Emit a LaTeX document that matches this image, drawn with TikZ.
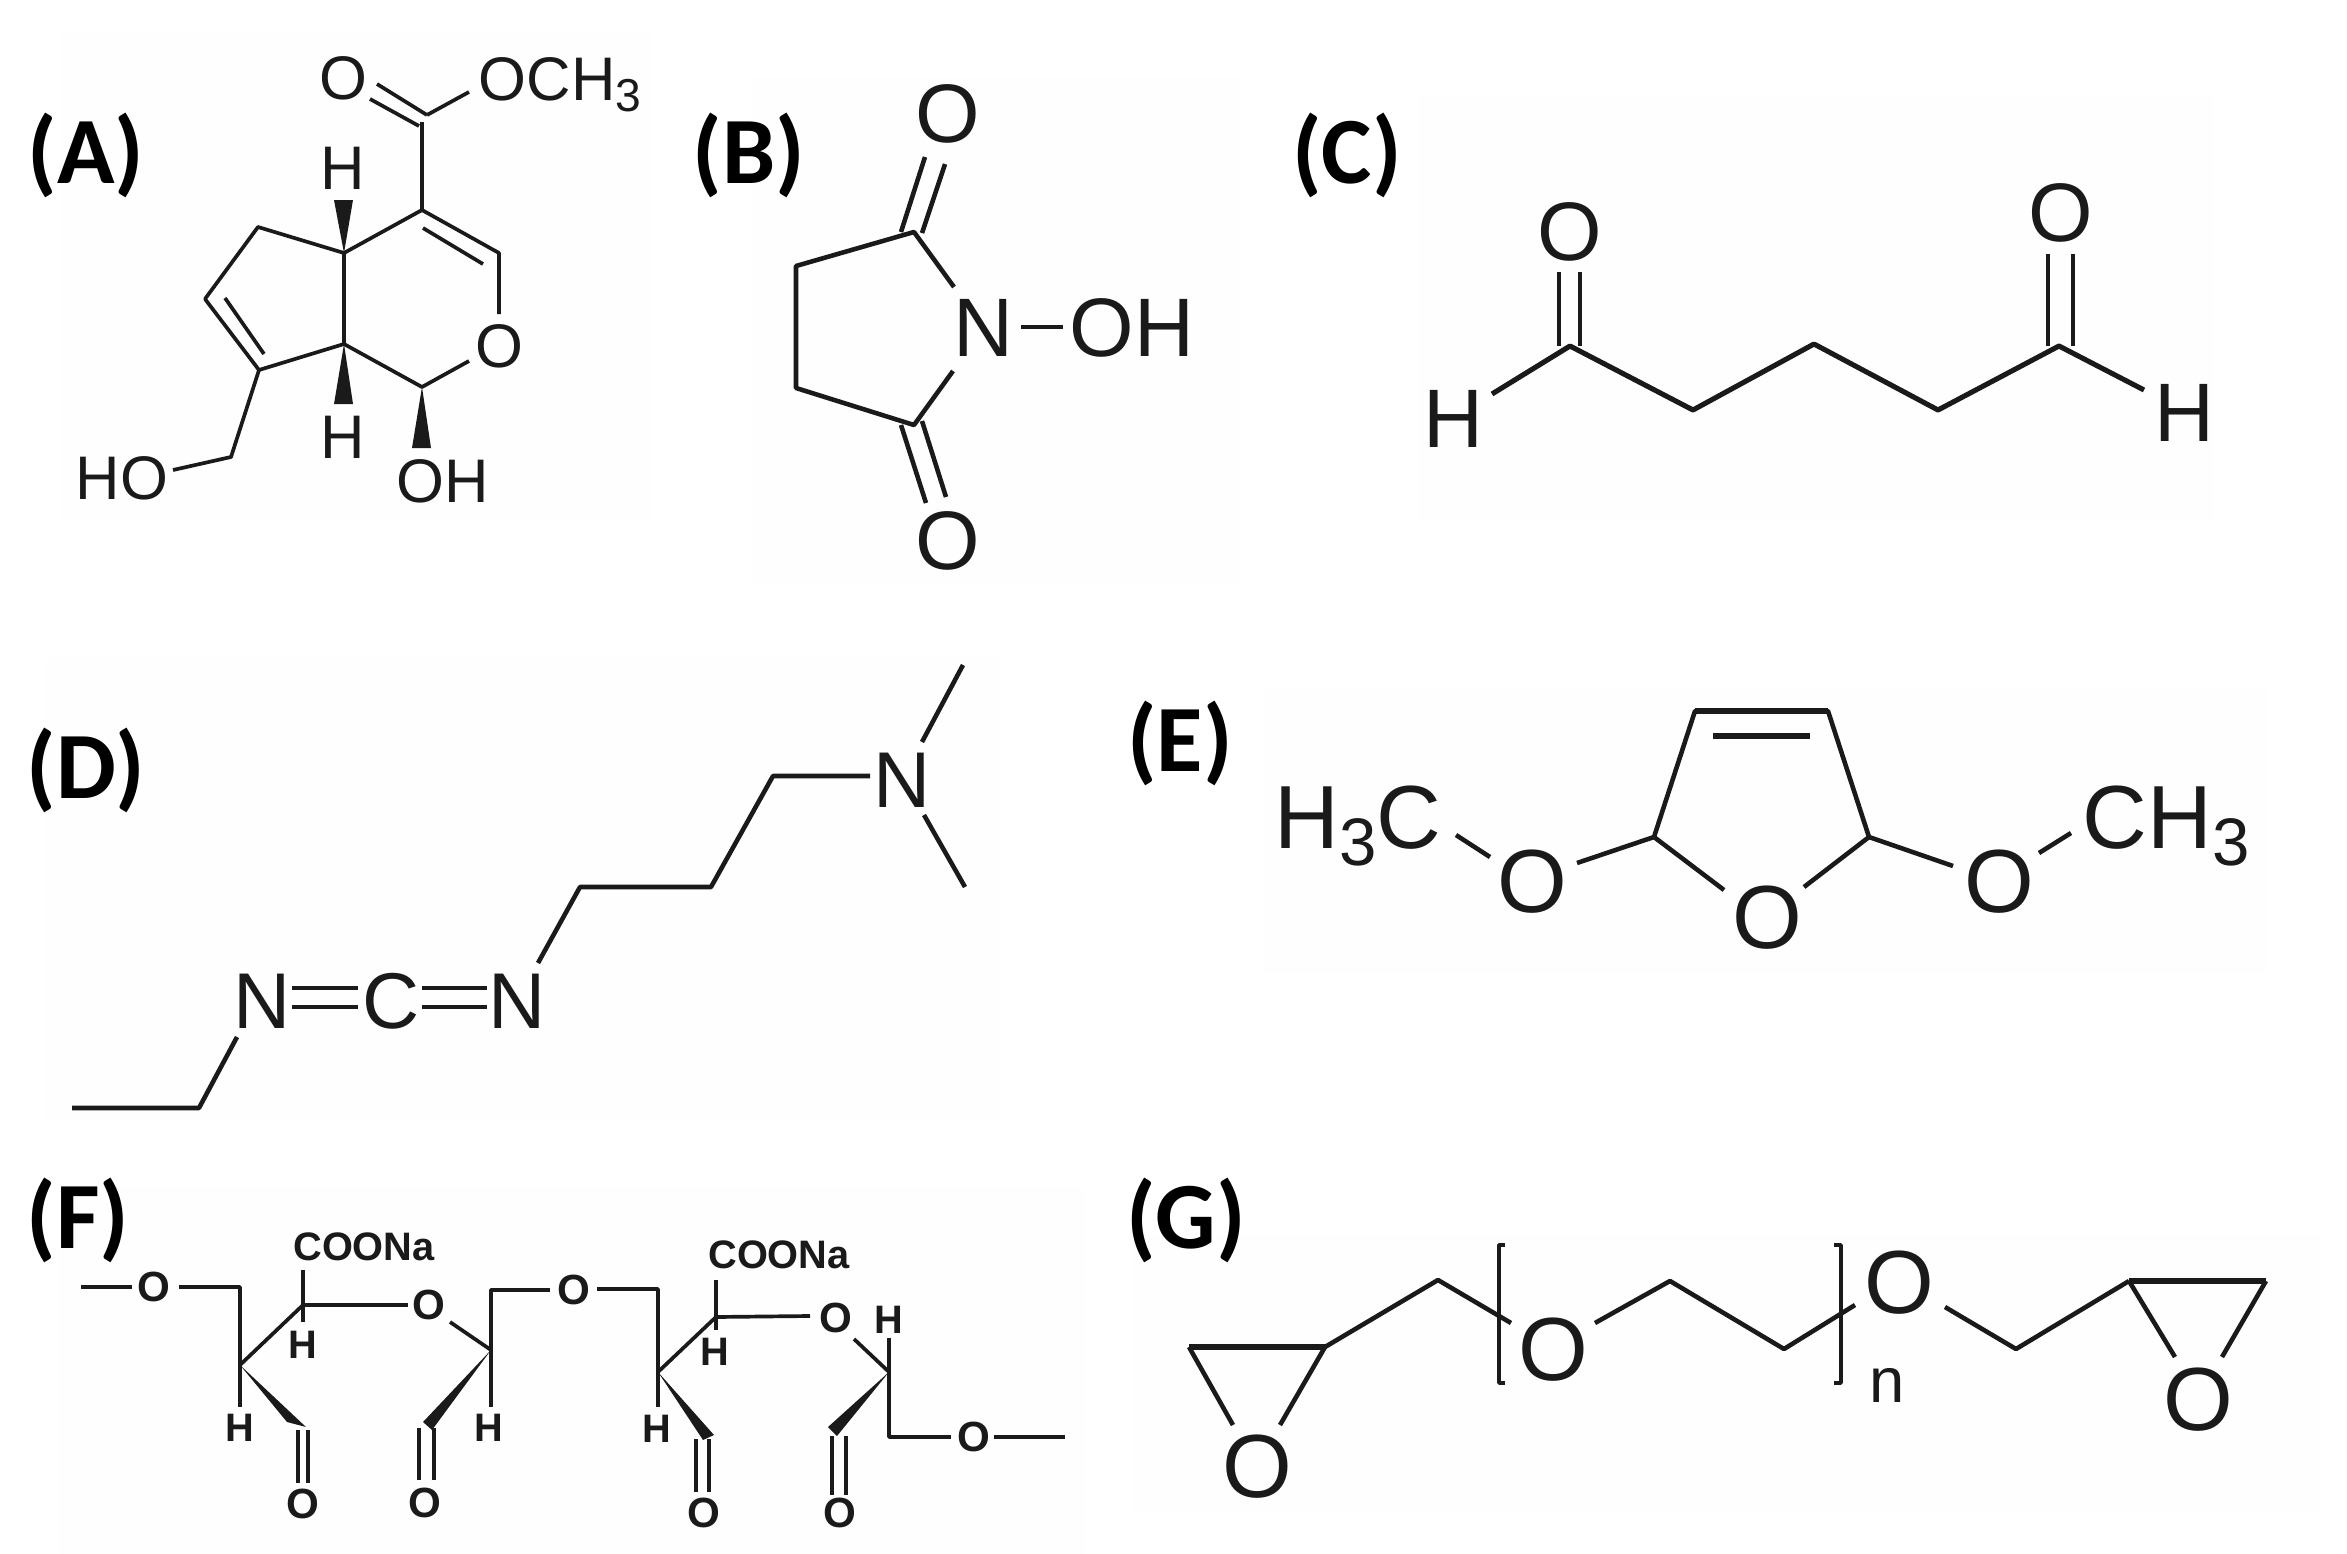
\documentclass[tikz,border=0pt]{standalone}
\usepackage{fontspec}
\setmainfont{Liberation Sans}
\newfontfamily\lblfont{Carlito}
\definecolor{ink}{HTML}{1A1A1A}
\definecolor{panel}{HTML}{FEFEFE}
\newcommand{\subn}[1]{\raisebox{-0.19em}{\scalebox{0.75}{#1}}}
\tikzset{
  panelbg/.style={fill=panel,draw=none},
  bond/.style={draw=ink,line width=1.3pt,line join=round,line cap=butt},
  thinbond/.style={draw=ink,line width=1.05pt,line join=round,line cap=butt},
  heavybond/.style={draw=ink,line width=1.9pt,line join=round,line cap=butt},
  wedge/.style={fill=ink,draw=none},
  atom/.style={inner sep=0pt,text=ink},
  plabel/.style={inner sep=0pt,text=black,font=\lblfont\bfseries\fontsize{27}{30}\selectfont},
  atomA/.style={atom,font=\fontsize{17.5}{20}\selectfont},
  atomB/.style={atom,font=\fontsize{23.6}{26}\selectfont},
  atomD/.style={atom,font=\fontsize{22.5}{26}\selectfont},
  atomE/.style={atom,font=\fontsize{25.5}{28}\selectfont},
  atomF/.style={atom,font=\bfseries\fontsize{11.3}{13}\selectfont},
  atomFo/.style={atom,font=\bfseries\fontsize{12}{14}\selectfont},
}
\begin{document}
\begin{tikzpicture}[x=0.01cm,y=-0.01cm]
\useasboundingbox (0,0) rectangle (2347,1554);
% faint panel backgrounds
\fill[panelbg] (61,33) rectangle (652,520);
\fill[panelbg] (751,76) rectangle (1239,585);
\fill[panelbg] (1419,96) rectangle (2214,520);
\fill[panelbg] (46,657) rectangle (1000,1120);
\fill[panelbg] (1263,689) rectangle (2268,973);
\fill[panelbg] (59,1187) rectangle (1085,1554);
\fill[panelbg] (1134,1235) rectangle (2320,1513);

% panel labels
\node[plabel] (labA) at (86,155) {(A)};
\node[plabel] (labB) at (749,155) {(B)};
\node[plabel] (labC) at (1347,155) {(C)};
\node[plabel] (labD) at (86,770) {(D)};
\node[plabel] (labE) at (1180,743) {(E)};
\node[plabel] (labF) at (78,1220) {(F)};
\node[plabel] (labG) at (1186,1220) {(G)};

% ---------- A ----------
\node[atomA] (aO1) at (343,78) {O};
\node[atomA,anchor=base west] (aOMe) at (478,100) {OCH\subn{3}};
\node[atomA] (aOr) at (499,346) {O};
\node[atomA] (aH1) at (343,168) {H};
\node[atomA] (aH2) at (343,437) {H};
\node[atomA] (aHO) at (122,478) {HO};
\node[atomA] (aOH) at (443,481) {OH};
\coordinate (aC) at (422,122);
\coordinate (aC4) at (422,210);
\coordinate (aC5) at (499,253);
\coordinate (aC5b) at (499,314);
\coordinate (aC1) at (422,387);
\coordinate (aC1b) at (469,361);
\coordinate (aC7) at (344,344);
\coordinate (aC4a) at (344,253);
\coordinate (aCa) at (258,227);
\coordinate (aCb) at (205,299);
\coordinate (aCc) at (259,370);
\coordinate (aCd) at (231,457);
\coordinate (aCe) at (173,470);
\coordinate (aD1) at (370,99);
\coordinate (aD2) at (419,126);
\coordinate (aD3) at (377,84);
\coordinate (aD4) at (427,115);
\coordinate (aM) at (469,92);
\coordinate (aI1) at (423,228);
\coordinate (aI2) at (483,264);
\coordinate (aI3) at (225,298);
\coordinate (aI4) at (264,354);
\coordinate (aW1a) at (334,200);
\coordinate (aW1b) at (353,200);
\coordinate (aW2a) at (334,404);
\coordinate (aW2b) at (353,404);
\coordinate (aW3a) at (412,448);
\coordinate (aW3b) at (431,448);
\draw[thinbond] (aD1)--(aD2);
\draw[thinbond] (aD3)--(aD4);
\draw[thinbond] (aD4)--(aM);
\draw[thinbond] (aC)--(aC4)--(aC5)--(aC5b);
\draw[thinbond] (aC4)--(aC4a)--(aC7)--(aC1)--(aC1b);
\draw[thinbond] (aC4a)--(aCa)--(aCb)--(aCc)--(aC7);
\draw[thinbond] (aCc)--(aCd)--(aCe);
\draw[thinbond] (aI1)--(aI2);
\draw[thinbond] (aI3)--(aI4);
\fill[wedge] (aC4a)--(aW1a)--(aW1b)--cycle;
\fill[wedge] (aC7)--(aW2a)--(aW2b)--cycle;
\fill[wedge] (aC1)--(aW3a)--(aW3b)--cycle;

% ---------- B ----------
\node[atomB] (bO1) at (948,114) {O};
\node[atomB] (bO2) at (948,541) {O};
\node[atomB] (bN) at (983,328) {N};
\node[atomB] (bOH) at (1132,328) {OH};
\coordinate (bC1) at (914,232);
\coordinate (bC2) at (796,266);
\coordinate (bC3) at (796,388);
\coordinate (bC4) at (914,425);
\coordinate (bN1) at (954,287);
\coordinate (bN2) at (953,371);
\coordinate (bX1) at (1021,327);
\coordinate (bX2) at (1063,327);
\coordinate (bD1) at (901,232);
\coordinate (bD2) at (925,157);
\coordinate (bD3) at (922,233);
\coordinate (bD4) at (945,164);
\coordinate (bE1) at (901,425);
\coordinate (bE2) at (926,503);
\coordinate (bE3) at (922,421);
\coordinate (bE4) at (946,497);
\draw[bond] (bN1)--(bC1)--(bC2)--(bC3)--(bC4)--(bN2);
\draw[bond] (bX1)--(bX2);
\draw[bond] (bD1)--(bD2);
\draw[bond] (bD3)--(bD4);
\draw[bond] (bE1)--(bE2);
\draw[bond] (bE3)--(bE4);

% ---------- C ----------
\node[atomB] (cO1) at (1570,232) {O};
\node[atomB] (cO2) at (2061,213) {O};
\node[atomB] (cH1) at (1453,419) {H};
\node[atomB] (cH2) at (2184,413) {H};
\coordinate (cC1) at (1570,346);
\coordinate (cC2) at (1693,410);
\coordinate (cC3) at (1814,344);
\coordinate (cC4) at (1938,410);
\coordinate (cC5) at (2059,346);
\coordinate (cB1) at (1492,394);
\coordinate (cB2) at (2144,390);
\coordinate (cD1) at (1559,346);
\coordinate (cD2) at (1559,272);
\coordinate (cD3) at (1580,346);
\coordinate (cD4) at (1580,272);
\coordinate (cE1) at (2048,346);
\coordinate (cE2) at (2048,254);
\coordinate (cE3) at (2073,346);
\coordinate (cE4) at (2073,254);
\draw[bond,line width=1.45pt] (cB1)--(cC1)--(cC2)--(cC3)--(cC4)--(cC5)--(cB2);
\draw[bond] (cD1)--(cD2);
\draw[bond] (cD3)--(cD4);
\draw[bond] (cE1)--(cE2);
\draw[bond] (cE3)--(cE4);

% ---------- D ----------
\node[atomD] (dN3) at (902,780) {N};
\node[atomD] (dN2) at (517,1001) {N};
\node[atomD] (dC) at (391,1001) {C};
\node[atomD] (dN1) at (262,1001) {N};
\coordinate (dMe1) at (963,665);
\coordinate (dMe1b) at (922,742);
\coordinate (dMe2) at (965,887);
\coordinate (dMe2b) at (924,815);
\coordinate (dA) at (870,776);
\coordinate (dB) at (773,776);
\coordinate (dCc) at (711,887);
\coordinate (dDd) at (580,887);
\coordinate (dE) at (538,963);
\coordinate (dF) at (237,1037);
\coordinate (dG) at (199,1108);
\coordinate (dH) at (72,1108);
\coordinate (dP1) at (292,988);
\coordinate (dP2) at (358,988);
\coordinate (dP3) at (292,1007);
\coordinate (dP4) at (358,1007);
\coordinate (dQ1) at (422,988);
\coordinate (dQ2) at (487,988);
\coordinate (dQ3) at (422,1007);
\coordinate (dQ4) at (487,1007);
\draw[bond] (dMe1)--(dMe1b);
\draw[bond] (dMe2)--(dMe2b);
\draw[bond] (dA)--(dB)--(dCc)--(dDd)--(dE);
\draw[bond] (dF)--(dG)--(dH);
\draw[bond] (dP1)--(dP2);
\draw[bond] (dP3)--(dP4);
\draw[bond] (dQ1)--(dQ2);
\draw[bond] (dQ3)--(dQ4);

% ---------- E ----------
\node[atomE,anchor=base west] (eL) at (1274,848) {H\subn{3}C};
\node[atomE,anchor=base west] (eR) at (2082,848) {CH\subn{3}};
\node[atomE] (eO1) at (1532,882) {O};
\node[atomE] (eO2) at (1767,918) {O};
\node[atomE] (eO3) at (1999,882) {O};
\coordinate (eA) at (1695,711);
\coordinate (eB) at (1828,711);
\coordinate (eC) at (1654,837);
\coordinate (eDd) at (1869,837);
\coordinate (eI1) at (1713,736);
\coordinate (eI2) at (1810,736);
\coordinate (eR1) at (1724,890);
\coordinate (eR2) at (1804,887);
\coordinate (eS1) at (1577,863);
\coordinate (eS2) at (1953,866);
\coordinate (eT1) at (1456,835);
\coordinate (eT2) at (1490,857);
\coordinate (eT3) at (2039,853);
\coordinate (eT4) at (2071,833);
\draw[bond] (eR1)--(eC)--(eA)--(eB)--(eDd)--(eR2);
\draw[bond,line width=1.6pt] (eI1)--(eI2);
\draw[bond,line width=1.6pt] (eA)--(eB);
\draw[bond] (eS1)--(eC);
\draw[bond] (eS2)--(eDd);
\draw[bond] (eT1)--(eT2);
\draw[bond] (eT3)--(eT4);

% ---------- F ----------
\node[atomFo] (fO1) at (154,1287) {O};
\node[atomF] (fCOO1) at (364,1247) {COONa};
\node[atomF] (fH1) at (240,1428) {H};
\node[atomF] (fH2) at (303,1345) {H};
\node[atomFo] (fO2) at (429,1305) {O};
\node[atomF] (fH3) at (489,1428) {H};
\node[atomFo] (fO3) at (574,1290) {O};
\node[atomFo] (fO4) at (303,1504) {O};
\node[atomFo] (fO5) at (425,1503) {O};
\node[atomF] (fCOO2) at (779,1255) {COONa};
\node[atomF] (fH4) at (657,1429) {H};
\node[atomF] (fH5) at (715,1352) {H};
\node[atomFo] (fO6) at (836,1318) {O};
\node[atomF] (fH6) at (889,1320) {H};
\node[atomFo] (fO7) at (974,1437) {O};
\node[atomFo] (fO8) at (704,1513) {O};
\node[atomFo] (fO9) at (840,1513) {O};
\coordinate (fa1) at (81,1287);
\coordinate (fa2) at (132,1287);
\coordinate (fb1) at (179,1287);
\coordinate (fb2) at (240,1287);
\coordinate (fb3) at (240,1365);
\coordinate (fb4) at (240,1407);
\coordinate (fc1) at (303,1270);
\coordinate (fc2) at (303,1305);
\coordinate (fc3) at (303,1322);
\coordinate (fc4) at (408,1305);
\coordinate (fd1) at (450,1322);
\coordinate (fd2) at (491,1350);
\coordinate (fe1) at (550,1290);
\coordinate (fe2) at (491,1290);
\coordinate (fe3) at (491,1407);
\coordinate (fw1a) at (287,1422);
\coordinate (fw1b) at (306,1427);
\coordinate (fw2a) at (423,1422);
\coordinate (fw2b) at (432,1430);
\coordinate (ff1) at (298,1430);
\coordinate (ff2) at (298,1483);
\coordinate (ff3) at (308,1430);
\coordinate (ff4) at (308,1483);
\coordinate (fg1) at (419,1428);
\coordinate (fg2) at (419,1480);
\coordinate (fg3) at (434,1428);
\coordinate (fg4) at (434,1480);
\coordinate (fh1) at (597,1289);
\coordinate (fh2) at (658,1289);
\coordinate (fh3) at (658,1372);
\coordinate (fh4) at (658,1407);
\coordinate (fi1) at (716,1280);
\coordinate (fi2) at (716,1317);
\coordinate (fi3) at (716,1330);
\coordinate (fi4) at (810,1316);
\coordinate (fj1) at (854,1339);
\coordinate (fj2) at (889,1372);
\coordinate (fk1) at (889,1338);
\coordinate (fk2) at (889,1437);
\coordinate (fk3) at (951,1437);
\coordinate (fl1) at (994,1437);
\coordinate (fl2) at (1065,1437);
\coordinate (fw3a) at (703,1440);
\coordinate (fw3b) at (714,1435);
\coordinate (fw4a) at (828,1427);
\coordinate (fw4b) at (837,1436);
\coordinate (fm1) at (696,1439);
\coordinate (fm2) at (696,1492);
\coordinate (fm3) at (709,1439);
\coordinate (fm4) at (709,1492);
\coordinate (fn1) at (832,1436);
\coordinate (fn2) at (832,1495);
\coordinate (fn3) at (846,1436);
\coordinate (fn4) at (846,1495);
\draw[thinbond] (fa1)--(fa2);
\draw[thinbond] (fb1)--(fb2)--(fb4);
\draw[thinbond] (fc1)--(fc3);
\draw[thinbond] (fc2)--(fc4);
\draw[thinbond] (fb3)--(fc2);
\draw[thinbond] (fd1)--(fd2);
\draw[thinbond] (fe1)--(fe2)--(fe3);
\fill[wedge] (fb3)--(fw1a)--(fw1b)--cycle;
\fill[wedge] (fd2)--(fw2a)--(fw2b)--cycle;
\draw[thinbond] (ff1)--(ff2);
\draw[thinbond] (ff3)--(ff4);
\draw[thinbond] (fg1)--(fg2);
\draw[thinbond] (fg3)--(fg4);
\draw[thinbond] (fh1)--(fh2)--(fh4);
\draw[thinbond] (fi1)--(fi3);
\draw[thinbond] (fi2)--(fi4);
\draw[thinbond] (fh3)--(fi2);
\draw[thinbond] (fj1)--(fj2);
\draw[thinbond] (fk1)--(fk2)--(fk3);
\draw[thinbond] (fl1)--(fl2);
\fill[wedge] (fh3)--(fw3a)--(fw3b)--cycle;
\fill[wedge] (fj2)--(fw4a)--(fw4b)--cycle;
\draw[thinbond] (fm1)--(fm2);
\draw[thinbond] (fm3)--(fm4);
\draw[thinbond] (fn1)--(fn2);
\draw[thinbond] (fn3)--(fn4);

% ---------- G ----------
\node[atomE] (gO1) at (1257,1467) {O};
\node[atomE] (gO2) at (1553,1350) {O};
\node[atomE] (gO3) at (1899,1283) {O};
\node[atomE] (gO4) at (2198,1400) {O};
\node[atom,font=\fontsize{18}{20}\selectfont] (gn) at (1887,1385) {n};
\coordinate (ga) at (1189,1347);
\coordinate (gb) at (1325,1347);
\coordinate (ga1) at (1233,1425);
\coordinate (gb1) at (1280,1425);
\coordinate (gc) at (1438,1280);
\coordinate (gd) at (1511,1323);
\coordinate (ge) at (1595,1323);
\coordinate (gf) at (1670,1281);
\coordinate (gg) at (1784,1349);
\coordinate (gh) at (1855,1305);
\coordinate (gi) at (1945,1307);
\coordinate (gj) at (2016,1349);
\coordinate (gk) at (2129,1281);
\coordinate (gl) at (2266,1281);
\coordinate (gk1) at (2175,1357);
\coordinate (gl1) at (2222,1357);
\coordinate (gp1) at (1505,1245);
\coordinate (gp2) at (1499,1245);
\coordinate (gp3) at (1499,1383);
\coordinate (gp4) at (1505,1383);
\coordinate (gq1) at (1834,1245);
\coordinate (gq2) at (1841,1245);
\coordinate (gq3) at (1841,1383);
\coordinate (gq4) at (1834,1383);
\draw[bond] (ga1)--(ga);
\draw[bond] (gb1)--(gb);
\draw[heavybond] (ga)--(gb);
\draw[bond] (gb)--(gc)--(gd);
\draw[bond] (ge)--(gf)--(gg)--(gh);
\draw[bond] (gi)--(gj)--(gk);
\draw[heavybond] (gk)--(gl);
\draw[bond] (gk)--(gk1);
\draw[bond] (gl)--(gl1);
\draw[thinbond] (gp1)--(gp2)--(gp3)--(gp4);
\draw[thinbond] (gq1)--(gq2)--(gq3)--(gq4);
\end{tikzpicture}
\end{document}
